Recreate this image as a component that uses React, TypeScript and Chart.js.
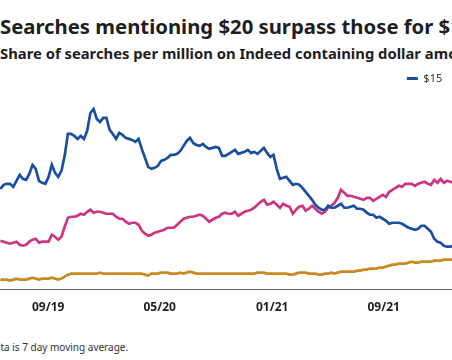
import { useEffect, useRef } from "react";
import { Chart, registerables } from "chart.js";

Chart.register(...registerables);

const titleText = "Searches mentioning $20 surpass those for $15";
const subtitleText = "Share of searches per million on Indeed containing dollar amounts";
const noteText = "Data is 7 day moving average.";

const seriesLabels = ["$15", "$20", "$25"];
const seriesColors = ["#1a4ea1", "#cc3581", "#c98a24"];

// weekly observations starting on this date
const startDate = "2019-05-20";

const tickDates = ["2019-09-01", "2020-05-01", "2021-01-01", "2021-09-01"];
const tickLabels = ["09/19", "05/20", "01/21", "09/21"];

const values15 = [
  101, 105, 106, 106, 103, 109, 115, 111, 110, 116, 125, 121, 109, 107, 106, 113, 125, 117, 113, 119,
  134, 156, 156, 154, 151, 154, 151, 159, 177, 181, 171, 168, 172, 172, 160, 156, 151, 157, 155, 152,
  151, 150, 148, 151, 141, 132, 123, 121, 122, 124, 129, 130, 132, 135, 135, 136, 139, 144, 149, 152,
  147, 145, 144, 146, 143, 141, 142, 143, 142, 134, 134, 136, 138, 140, 136, 137, 138, 140, 137, 138,
  136, 139, 142, 137, 133, 135, 121, 111, 112, 113, 109, 105, 106, 105, 102, 98, 94, 90, 85, 82,
  80, 80, 84, 82, 82, 84, 86, 82, 82, 83, 84, 81, 81, 80, 77, 75, 75, 72, 73, 71,
  69, 66, 67, 67, 67, 66, 64, 62, 61, 60, 61, 64, 64, 61, 58, 51, 48, 47, 44, 43,
  43, 44,
];

const values20 = [
  49, 48, 47, 46, 47, 48, 45, 44, 45, 48, 50, 51, 47, 48, 48, 48, 55, 53, 50, 53,
  63, 72, 73, 73, 74, 76, 75, 78, 80, 77, 78, 78, 77, 76, 76, 76, 73, 71, 71, 68,
  66, 67, 67, 65, 59, 56, 54, 55, 57, 58, 59, 60, 62, 62, 62, 65, 68, 71, 72, 73,
  73, 74, 75, 74, 71, 68, 70, 72, 73, 76, 77, 76, 76, 78, 74, 76, 78, 79, 80, 82,
  85, 88, 90, 85, 86, 88, 85, 82, 86, 84, 83, 76, 80, 83, 84, 79, 81, 84, 81, 78,
  76, 78, 82, 84, 87, 92, 100, 97, 94, 94, 93, 92, 91, 90, 92, 92, 89, 91, 93, 95,
  93, 98, 100, 102, 104, 103, 106, 106, 106, 104, 106, 107, 108, 106, 105, 110, 107, 111, 107, 109,
  108, 107,
];

const values25 = [
  10, 10, 10, 9, 10, 11, 10, 10, 10, 11, 12, 11, 10, 11, 11, 11, 12, 11, 10, 11,
  13, 15, 16, 16, 16, 16, 16, 16, 16, 16, 16, 17, 16, 16, 16, 16, 16, 16, 16, 16,
  16, 16, 16, 16, 16, 15, 14, 16, 16, 16, 17, 17, 17, 16, 16, 16, 17, 16, 17, 18,
  17, 16, 16, 16, 16, 16, 16, 16, 16, 16, 16, 16, 16, 16, 16, 16, 16, 16, 16, 16,
  17, 17, 17, 16, 16, 16, 16, 16, 16, 16, 15, 15, 16, 17, 17, 17, 16, 16, 16, 15,
  15, 16, 16, 17, 16, 17, 18, 18, 18, 18, 18, 19, 19, 20, 20, 21, 21, 21, 22, 22,
  23, 24, 25, 25, 26, 26, 26, 27, 28, 27, 27, 28, 28, 28, 28, 29, 29, 29, 30, 30,
  30, 30,
];

const xMinDate = "2019-02-21";
const xMaxDate = "2022-08-14";

const DAY = 86400000;
const FONT = "'Noto Sans', 'Open Sans', sans-serif";

export default function App() {
  const canvasRef = useRef<HTMLCanvasElement | null>(null);

  useEffect(() => {
    const canvas = canvasRef.current;
    if (!canvas) return;
    const t0 = Date.parse(startDate);
    const tickTimes = tickDates.map((d) => Date.parse(d));
    const allValues = [values15, values20, values25];
    const datasets = allValues.map((vals, s) => ({
      label: seriesLabels[s],
      data: vals.map((v, i) => ({ x: t0 + i * 7 * DAY, y: v })),
      borderColor: seriesColors[s],
      backgroundColor: seriesColors[s],
      borderWidth: 2.7,
      pointRadius: 0,
      tension: 0,
      fill: false,
    }));

    const chart = new Chart(canvas, {
      type: "line",
      data: { datasets },
      options: {
        animation: false,
        responsive: false,
        maintainAspectRatio: false,
        devicePixelRatio: 1,
        layout: { padding: 0 },
        plugins: {
          legend: {
            position: "top",
            align: "end",
            labels: {
              boxWidth: 11,
              boxHeight: 3,
              padding: 10,
              color: "#333",
              font: { size: 11, family: FONT },
              generateLabels: (c: any) =>
                (Chart.defaults.plugins.legend.labels as any)
                  .generateLabels(c)
                  .map((l: any) => ({ ...l, lineWidth: 0 })),
            },
          },
          tooltip: { enabled: false },
        },
        scales: {
          x: {
            type: "linear",
            min: Date.parse(xMinDate),
            max: Date.parse(xMaxDate),
            grid: { display: false, drawTicks: false },
            border: { display: true, color: "#6b6b6b", width: 1 },
            afterBuildTicks: (axis: any) => {
              axis.ticks = tickTimes.map((t) => ({ value: t }));
            },
            ticks: {
              autoSkip: false,
              maxRotation: 0,
              padding: 11,
              color: "#1e1e1e",
              font: { size: 12, weight: "bold", family: FONT },
              callback: (value: any) => {
                const i = tickTimes.indexOf(Number(value));
                return i >= 0 ? tickLabels[i] : "";
              },
            },
          },
          y: { display: false, min: 0, max: 196 },
        },
      },
    });
    return () => chart.destroy();
  }, []);

  return (
    <div
      style={{
        position: "fixed",
        left: 0,
        top: 0,
        width: 452,
        height: 360,
        overflow: "hidden",
        background: "#fff",
        fontFamily: FONT,
      }}
    >
      <div
        style={{
          position: "absolute",
          left: 0,
          top: 16,
          fontSize: 20.3,
          lineHeight: "21px",
          fontWeight: 700,
          color: "#1e1e1e",
          whiteSpace: "nowrap",
        }}
      >
        {titleText}
      </div>
      <div
        style={{
          position: "absolute",
          left: 0,
          top: 46,
          fontSize: 14.8,
          lineHeight: "14.5px",
          fontWeight: 700,
          color: "#1e1e1e",
          whiteSpace: "nowrap",
        }}
      >
        {subtitleText}
      </div>
      <div
        style={{
          position: "absolute",
          left: -40,
          top: 63,
          width: 583,
          height: 263,
        }}
      >
        <canvas
          ref={canvasRef}
          width={583}
          height={263}
          style={{ display: "block", width: 583, height: 263 }}
        />
      </div>
      <div
        style={{
          position: "absolute",
          left: -12.5,
          top: 342,
          fontSize: 10,
          lineHeight: "10px",
          color: "#333",
          whiteSpace: "nowrap",
        }}
      >
        {noteText}
      </div>
    </div>
  );
}
